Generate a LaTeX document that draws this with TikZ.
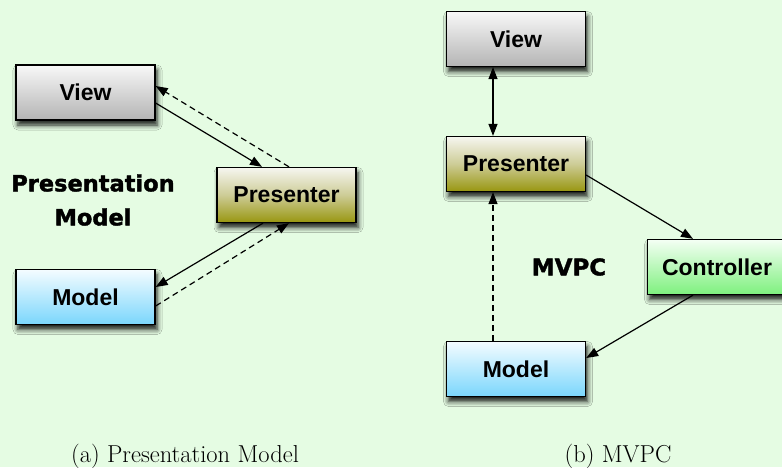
\documentclass[tikz,border=0pt]{standalone}
\usepackage{fontspec}
\newfontfamily\boxfont{Liberation Sans}
\newfontfamily\heavyfont{DejaVu Sans}[BoldFeatures={FakeBold=1.6}]
\usetikzlibrary{arrows.meta,shadows.blur,calc}
\definecolor{bg}{RGB}{229,252,227}
\definecolor{viewtop}{RGB}{248,248,248}
\definecolor{viewbot}{RGB}{180,180,180}
\definecolor{prestop}{RGB}{246,246,240}
\definecolor{presmid}{RGB}{205,204,150}
\definecolor{presbot}{RGB}{152,150,16}
\definecolor{modtop}{RGB}{244,252,255}
\definecolor{modbot}{RGB}{122,214,252}
\definecolor{contop}{RGB}{244,255,244}
\definecolor{conbot}{RGB}{126,240,126}
\tikzset{
  box/.style={draw=black, line width=1.3pt, minimum width=139pt, minimum height=55pt,
    inner sep=0pt, font=\boxfont\bfseries\fontsize{23}{27}\selectfont,
    blur shadow={shadow xshift=2pt, shadow yshift=-5pt, shadow blur radius=5pt, shadow opacity=90}},
  viewbox/.style={box, top color=viewtop, bottom color=viewbot},
  presbox/.style={box, top color=prestop, bottom color=presbot, middle color=presmid},
  modbox/.style={box, top color=modtop, bottom color=modbot},
  conbox/.style={box, top color=contop, bottom color=conbot},
  conn/.style={line width=1.2pt, -{Triangle[length=12pt,width=9pt]}},
  dconn/.style={conn, dash pattern=on 6pt off 4pt},
  bconn/.style={line width=1.2pt, {Triangle[length=12pt,width=9pt]}-{Triangle[length=12pt,width=9pt]}},
  heavy/.style={font=\heavyfont\bfseries\fontsize{22.5}{34}\selectfont, align=center},
  captext/.style={font=\fontsize{24.5}{28}\selectfont, anchor=base}
}
\begin{document}
\begin{tikzpicture}[x=1pt,y=-1pt]
\fill[bg] (0,0) rectangle (782,467);
\useasboundingbox (0,0) rectangle (782,467);
\clip (0,0) rectangle (782,467);
% left panel
\node[viewbox] (lview) at (85.5,92.5) {View};
\node[presbox] (lpres) at (286.5,195) {Presenter};
\node[modbox] (lmodel) at (85.5,297) {Model};
\node[heavy] (pmtext) at (93,200) {Presentation\\Model};
\draw[conn] ($(lview.east)+(0,10.5)$) -- ($(lpres.north)+(-24.5,0)$);
\draw[dconn] ($(lpres.north)+(2.5,0)$) -- ($(lview.east)+(0,-6.5)$);
\draw[conn] ($(lpres.south)+(-23.5,0)$) -- ($(lmodel.east)+(0,-10)$);
\draw[dconn] ($(lmodel.east)+(0,9)$) -- ($(lpres.south)+(2.5,0)$);
% right panel
\node[viewbox] (rview) at (516,39) {View};
\node[presbox] (rpres) at (516,164) {Presenter};
\node[modbox] (rmodel) at (516,369) {Model};
\node[conbox] (rcon) at (717,267) {Controller};
\node[heavy, font=\heavyfont\bfseries\fontsize{23}{27}\selectfont] (mvpc) at (569,267) {MVPC};
\draw[bconn] ($(rview.south)+(-23,0)$) -- ($(rpres.north)+(-23,0)$);
\draw[dconn] ($(rmodel.north)+(-23,0)$) -- ($(rpres.south)+(-23,0)$);
\draw[conn] ($(rpres.east)+(0,11)$) -- ($(rcon.north)+(-24,0)$);
\draw[conn] ($(rcon.south)+(-24,0)$) -- ($(rmodel.east)+(0,-11)$);
% captions
\node[captext] (capa) at (185,462) {(a) Presentation Model};
\node[captext] (capb) at (618,462) {(b) MVPC};
\end{tikzpicture}
\end{document}
